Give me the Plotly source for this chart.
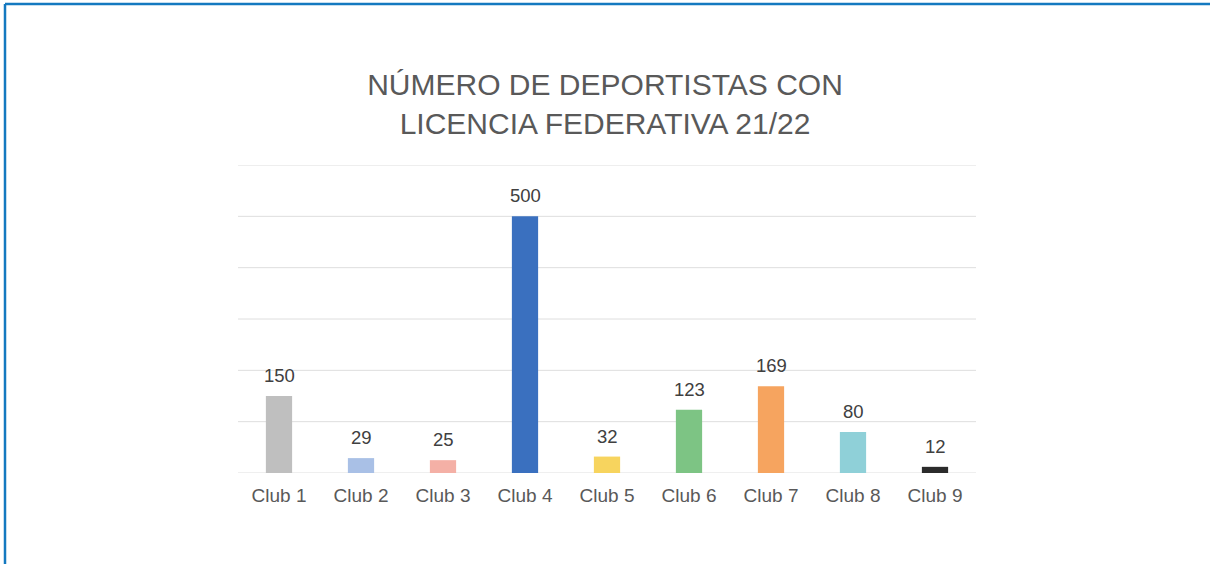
import plotly.graph_objects as go

categories = ["Club 1", "Club 2", "Club 3", "Club 4", "Club 5", "Club 6", "Club 7", "Club 8", "Club 9"]
values = [150, 29, 25, 500, 32, 123, 169, 80, 12]
colors = ["#bfbfbf", "#a9c0e6", "#f4b0a6", "#3a70bf", "#f7d45e", "#7dc484", "#f6a45f", "#8fd0d8", "#2b2b2b"]
title_text = "NÚMERO DE DEPORTISTAS CON<br>LICENCIA FEDERATIVA 21/22"
grid_values = [0, 100, 200, 300, 400, 500, 600]

W, H = 1210, 564
ML, MR, MT, MB = 238, 234, 165, 91
FONT = "Liberation Sans, Arial, sans-serif"

fig = go.Figure()
fig.add_trace(go.Bar(
    x=categories, y=values,
    marker=dict(color=colors, line=dict(width=0)),
    hoverinfo="x+y",
))

for c, v in zip(categories, values):
    fig.add_annotation(
        x=c, y=v, text=str(v), showarrow=False,
        xref="x", yref="y", yanchor="bottom", yshift=8,
        font=dict(family=FONT, size=18.5, color="#404040"),
    )

for g in grid_values:
    fig.add_shape(type="line", xref="paper", yref="y", x0=0, x1=1, y0=g, y1=g,
                  line=dict(color="#dedede", width=1), layer="below")

pw = W - ML - MR
ph = H - MT - MB
# border lines (left and top)
fig.add_shape(type="line", xref="paper", yref="paper",
              x0=(5 - ML) / pw, x1=(5 - ML) / pw,
              y0=1 + (MT - 4) / ph, y1=1 - (H - MT) / ph,
              line=dict(color="#1479c0", width=2.5))
fig.add_shape(type="line", xref="paper", yref="paper",
              x0=(5 - ML) / pw, x1=(W - ML) / pw,
              y0=1 + (MT - 4) / ph, y1=1 + (MT - 4) / ph,
              line=dict(color="#1479c0", width=2.5))

fig.update_layout(
    width=W, height=H,
    margin=dict(l=ML, r=MR, t=MT, b=MB),
    paper_bgcolor="white", plot_bgcolor="white",
    bargap=0.68,
    showlegend=False,
    title=dict(text=title_text, x=0.5, xanchor="center", y=1 - 95 / H, yanchor="middle",
               font=dict(family=FONT, size=30, color="#595959")),
    font=dict(family=FONT),
    xaxis=dict(showgrid=False, showline=False, ticks="", ticklabelstandoff=9,
               tickfont=dict(size=19, color="#595959"), fixedrange=True),
    yaxis=dict(range=[0, 600], showgrid=False,
               showticklabels=False, zeroline=False, showline=False, fixedrange=True),
)

fig.write_html("out.html", config={"displayModeBar": False},
               post_script="document.body.style.margin='0';document.body.style.padding='0';")
